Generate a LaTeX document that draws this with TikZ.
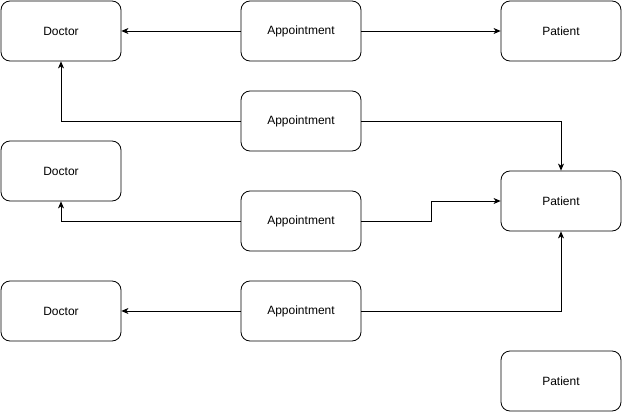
\documentclass[tikz,border=0pt]{standalone}
\usepackage{fontspec}
\setmainfont{Liberation Sans}
\usetikzlibrary{arrows.meta}
\begin{document}
\begin{tikzpicture}[x=1pt, y=-1pt,
        entity/.style={draw, rounded corners=9pt, minimum width=120pt, minimum height=60pt, inner sep=0pt, font=\fontsize{12}{14}\selectfont, line width=0.8pt},
        link/.style={-{Stealth[length=7pt, width=6pt, inset=2pt]}, line width=0.8pt}
    ]
        % 1. Fix canvas
        \useasboundingbox (0,0) rectangle (622,412);

        % 2. Entity boxes
        \node[entity] (doc1) at (61,31) {Doctor};
        \node[entity] (doc2) at (61,171) {Doctor};
        \node[entity] (doc3) at (61,311) {Doctor};
        \node[entity] (app1) at (301,31) {Appointment};
        \node[entity] (app2) at (301,121) {Appointment};
        \node[entity] (app3) at (301,221) {Appointment};
        \node[entity] (app4) at (301,311) {Appointment};
        \node[entity] (pat1) at (561,31) {Patient};
        \node[entity] (pat2) at (561,201) {Patient};
        \node[entity] (pat3) at (561,381) {Patient};

        % 3. Connectors
        \draw[link] (app1) -- (doc1);
        \draw[link] (app1) -- (pat1);
        \draw[link] (app2.west) -| (doc1.south);
        \draw[link] (app2.east) -| (pat2.north);
        \draw[link] (app3.west) -| (doc2.south);
        \coordinate (bend) at (431,221);
        \draw[link] (app3.east) -- (bend) |- (pat2.west);
        \draw[link] (app4) -- (doc3);
        \draw[link] (app4.east) -| (pat2.south);
    \end{tikzpicture}
\end{document}
